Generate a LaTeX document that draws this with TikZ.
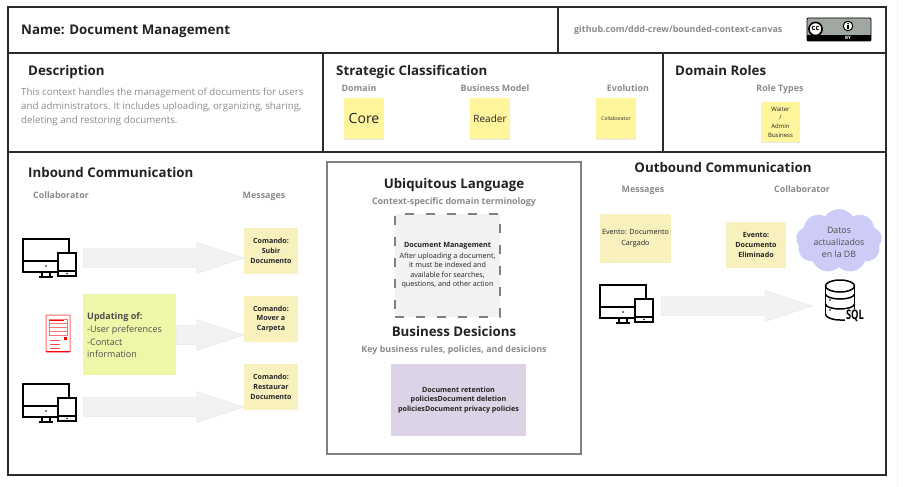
\documentclass[tikz,border=0pt]{standalone}
\usepackage{fontspec}
\setmainfont{Open Sans}
\usetikzlibrary{shapes,shadows,calc}

\definecolor{frameline}{HTML}{2B2B2B}
\definecolor{greytext}{HTML}{8A8A8A}
\definecolor{darktext}{HTML}{222222}
\definecolor{stickyyellow}{HTML}{FFF59D}
\definecolor{msgyellow}{HTML}{F8F1BE}
\definecolor{notegreen}{HTML}{EFF6A8}
\definecolor{rulepurple}{HTML}{DCD3E6}
\definecolor{cloudblue}{HTML}{CCCCF6}
\definecolor{arrowgrey}{HTML}{F2F2F2}

\newcommand{\fsz}[1]{\fontsize{#1}{#1}\selectfont}
% block arrow from a node to the west side of another one
\newcommand{\blockarrow}[2]{
	\draw[arrowgrey!96!black, fill=arrowgrey, line width=0.5pt] let \p1=(#1), \p2=(#2) in
		(\x1,\y1-9.5pt)--(\x2-47pt,\y1-9.5pt)--(\x2-47pt,\y1-15.5pt)--(\x2,\y1)
		--(\x2-47pt,\y1+15.5pt)--(\x2-47pt,\y1+9.5pt)--(\x1,\y1+9.5pt)--cycle;
}

\tikzset{
	heading/.style={font=\fsz{13.3}\bfseries, text=darktext, inner sep=0pt, text height=9pt, text depth=3pt, yshift=-1.5pt},
	sublabel/.style={font=\fsz{8.9}\bfseries, text=greytext, inner sep=0pt, text height=7pt, text depth=2pt, yshift=-0.5pt},
	sticky/.style n args={2}{minimum width=#1pt, minimum height=#2pt, inner sep=0pt, align=center, text=darktext},
	topnote/.style={fill=stickyyellow, drop shadow={shadow xshift=0pt, shadow yshift=-1pt, opacity=0.2}},
	cmdnote/.style={fill=msgyellow, font=\fsz{7.1}\bfseries},
	device/.pic={
		\draw[black, line width=2pt, fill=white] (0,0) rectangle (46,33);
		\draw[black, line width=2pt] (0,22)--(46,22);
		\fill[black] (23,27) circle (0.9pt);
		\draw[black, line width=2pt] (19,33)--(19,37) (27,33)--(27,37) (16,37.5)--(30,37.5);
		\draw[black, line width=2pt, fill=white] (35,14) rectangle (53,37);
		\draw[black, line width=1.4pt] (35,32)--(53,32);
		\fill[black] (44,34.5) circle (0.8pt);
	}
}

\begin{document}
\begin{tikzpicture}[x=1pt,y=-1pt]
	\useasboundingbox (0,0) rectangle (910,487);
	\draw[arrowgrey, line width=1pt] (897.5,0)--(897.5,487);

	% canvas frame
	\draw[frameline, line width=2.8pt] (8,7) rectangle (886,475);
	\draw[frameline, line width=2.3pt] (8,53)--(886,53) (8,152)--(886,152);
	\draw[frameline, line width=2.3pt] (558,7)--(558,53) (323,53)--(323,152) (663,53)--(663,152);

	% top row
	\node[heading, anchor=west] (name) at (21,30) {Name: Document Management};
	\node[sublabel, anchor=west] (canvasurl) at (574,30) {github.com/ddd-crew/bounded-context-canvas};
	\draw[black, fill=black!30!green!5!gray!70, rounded corners=1pt, line width=0.8pt] (807,18) rectangle (871,41);
	\fill[black] (807,35) rectangle (871,41);
	\draw[black, fill=white, line width=1.6pt] (815.5,29) circle (6.6pt);
	\node[inner sep=0pt, font=\fsz{7.5}\bfseries] (cclogo) at (815.5,28.7) {cc};
	\draw[black, fill=white, line width=1pt] (848,26) circle (4.8pt);
	\fill[black] (848,23.6) circle (0.9pt);
	\fill[black] (846.9,25) rectangle (849.1,29);
	\node[inner sep=0pt, text=white, font=\fsz{4.5}\bfseries] (bylabel) at (848,38) {BY};

	% description
	\node[heading, anchor=west] (desc) at (28,71) {Description};
	\node[anchor=north west, inner sep=0pt, text=greytext, align=left, font=\fsz{9.75}] (desctext) at (21,88)
		{This context handles the management of documents for users\\[4.3pt]and administrators. It includes uploading, organizing, sharing,\\[4.3pt]deleting and restoring documents.};

	% strategic classification
	\node[heading, anchor=west] (strategic) at (336,71) {Strategic Classification};
	\node[sublabel] (domain) at (359,88) {Domain};
	\node[sublabel] (bizmodel) at (495,88) {Business Model};
	\node[sublabel] (evolution) at (628,88) {Evolution};
	\node[sticky={40}{41}, topnote, font=\fsz{14}] (core) at (364,118.5) {Core};
	\node[sticky={40}{41}, topnote, font=\fsz{10}] (reader) at (490,118.5) {Reader};
	\node[sticky={40}{41}, topnote, font=\fsz{5}] (collab) at (616,118.5) {Collaborator};

	% domain roles
	\node[heading, anchor=west] (roles) at (675,71) {Domain Roles};
	\node[sublabel] (roletypes) at (780,88) {Role Types};
	\node[sticky={39}{40}, topnote, font=\fsz{6}] (waiter) at (780.5,122) {Waiter\\[2.6pt]/\\[2.6pt]Admin\\[2.6pt]Business};

	% inbound
	\node[heading, anchor=west] (inbound) at (28,173) {Inbound Communication};
	\node[sublabel] (incollab) at (61,195) {Collaborator};
	\node[sublabel] (inmsg) at (264,195) {Messages};
	\pic at (23,239) {device};
	\pic at (23,384) {device};
	\coordinate (devone) at (83,258);
	\coordinate (devtwo) at (83,407);

	\node[sticky={54}{46}, cmdnote] (subir) at (271,251) {Comando:\\[2.7pt]Subir\\[2.7pt]Documento};
	\node[sticky={54}{46}, cmdnote] (mover) at (271,319) {Comando:\\[2.7pt]Mover a\\[2.7pt]Carpeta};
	\node[sticky={54}{46}, cmdnote] (restaurar) at (271,387) {Comando:\\[2.7pt]Restaurar\\[2.7pt]Documento};
	\node[sticky={93}{81}, fill=notegreen, anchor=north west] (updating) at (83,294) {};
	\node[anchor=west, inner sep=0pt, align=left, text=darktext!80, font=\fsz{9}] (updatetext) at (87,335)
		{\textbf{Updating of:}\\[3.3pt]-User preferences\\[3.3pt]-Contact\\[3.3pt]information};

	\blockarrow{devone}{subir.west}
	\blockarrow{updating.east |- 0,335}{mover.west}
	\blockarrow{devtwo}{restaurar.west}

	% document icon
	\draw[red!60, fill=white, line width=1pt, rounded corners=0.5pt] (46,315) rectangle (70,352);
	\draw[red, line width=0.7pt] (46,351.5)--(70,351.5);
	\draw[red!55, line width=0.7pt] (49,319) rectangle (67,335);
	\draw[red!55, line width=0.7pt] (49,323)--(67,323) (49,327)--(67,327) (49,331)--(67,331);
	\draw[red, line width=0.8pt] (50,320)--(64,320);
	\draw[red!70, line width=0.7pt] (50,340)--(60,340) (50,344)--(60,344) (50,348)--(60,348);
	\fill[red] (63.5,337) rectangle (66.5,340);

	% ubiquitous language and decisions
	\draw[gray, line width=2.7pt] (327,162) rectangle (581,454);
	\node[heading] (ubiq) at (454,184) {Ubiquitous Language};
	\node[sublabel] (ubiqsub) at (454,201) {Context-specific domain terminology};
	\node[sticky={105}{103}, fill=arrowgrey, draw=gray, line width=2.5pt, dash pattern=on 9pt off 12pt, font=\fsz{7.2}] (term) at (447.5,265.5)
		{\textbf{Document Management}\\[2.2pt]After uploading a document,\\[2.2pt]it must be indexed and\\[2.2pt]available for searches,\\[2.2pt]questions, and other action};
	\node[heading] (bizdec) at (454,332) {Business Desicions};
	\node[sublabel] (bizdecsub) at (454,349) {Key business rules, policies, and desicions};
	\node[sticky={135}{72}, fill=rulepurple, font=\fsz{7.15}\bfseries] (rules) at (458.5,400)
		{Document retention\\[2.7pt]policiesDocument deletion\\[2.7pt]policiesDocument privacy policies};

	% outbound
	\node[heading] (outbound) at (723,168) {Outbound Communication};
	\node[sublabel] (outmsg) at (643,189) {Messages};
	\node[sublabel] (outcollab) at (802,189) {Collaborator};
	\node[sticky={71}{49}, fill=msgyellow, font=\fsz{7.2}] (cargado) at (635.5,238.5) {Evento: Documento\\[3.5pt]Cargado};
	\node[sticky={60}{46}, cmdnote] (eliminado) at (756,245) {Evento:\\[2.7pt]Documento\\[2.7pt]Eliminado};
	\node[cloud, cloud puffs=9, cloud puff arc=110, fill=cloudblue, minimum width=86pt, minimum height=64pt, inner sep=0pt] (cloudnode) at (839,241) {};
	\node[inner sep=0pt, align=center, text=darktext!80, font=\fsz{8.8}] (cloudtext) at (839,242) {Datos\\[3.2pt]actualizados\\[3.2pt]en la DB};
	\pic at (600,285) {device};
	\coordinate (devout) at (661,306);
	\coordinate (dbin) at (812,306);
	\blockarrow{devout}{dbin}

	% database icon
	\draw[black, line width=1.5pt] (825.5,286)--(825.5,314) (854.5,286)--(854.5,309);
	\draw[black, line width=1.5pt, fill=white] (840,286) ellipse (14.5pt and 6pt);
	\draw[black, line width=1.5pt] (825.5,294) arc[start angle=180, end angle=360, x radius=14.5pt, y radius=5pt];
	\draw[black, line width=1.5pt] (825.5,304) arc[start angle=180, end angle=360, x radius=14.5pt, y radius=5pt];
	\draw[black, line width=1.5pt] (825.5,314) arc[start angle=180, end angle=270, x radius=14.5pt, y radius=6pt]--(846,320);
	\fill[black] (830,300) circle (0.9pt) (830,310) circle (0.9pt);
	\node[anchor=west, inner sep=1pt, fill=white, xscale=0.85, yscale=1.2, transform shape, font=\fsz{11}] (sqllabel) at (845,316) {\textbf{SQL}};
\end{tikzpicture}
\end{document}
